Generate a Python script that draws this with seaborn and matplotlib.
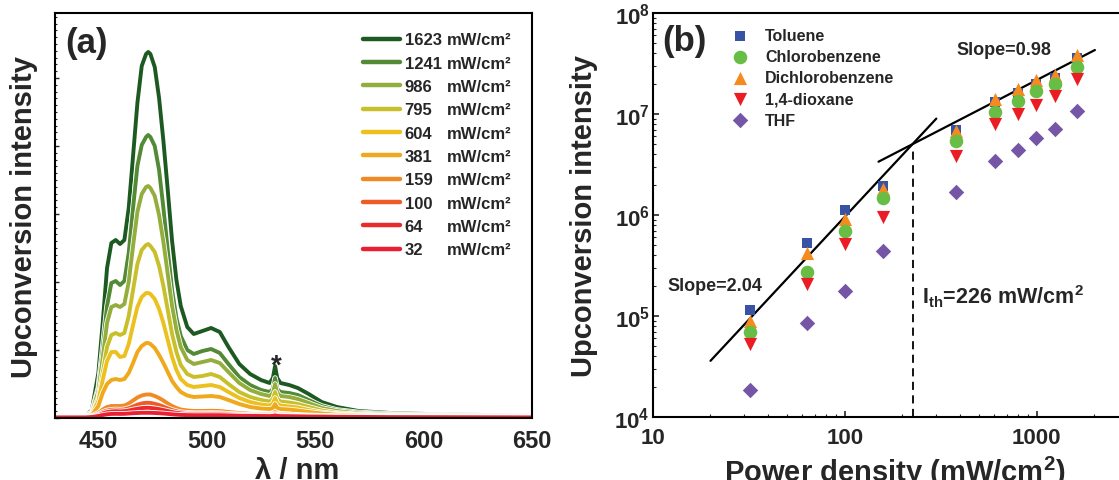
import matplotlib
matplotlib.use('Agg')
import matplotlib.pyplot as plt
import matplotlib.patheffects as pe
from matplotlib.lines import Line2D
from matplotlib.ticker import FuncFormatter, LogLocator, MultipleLocator, NullFormatter
import numpy as np
import pandas as pd
import seaborn as sns

sns.set_theme(style='ticks')
plt.rcParams['font.family'] = ['Liberation Sans', 'DejaVu Sans']
plt.rcParams['font.weight'] = 'bold'
plt.rcParams['axes.labelweight'] = 'bold'
plt.rcParams['mathtext.fontset'] = 'custom'
plt.rcParams['mathtext.rm'] = 'Liberation Sans:bold'
plt.rcParams['mathtext.it'] = 'Liberation Sans:bold'
plt.rcParams['mathtext.bf'] = 'Liberation Sans:bold'
plt.rcParams['mathtext.default'] = 'rm'

# ---- panel (a): upconversion spectra ----
wavelength = [430, 444, 447, 450, 452, 454, 456, 458, 460, 462,
              464, 466, 468, 470, 472, 473, 474, 476, 478, 480,
              482, 484, 486, 488, 491, 494, 498, 502, 506, 510,
              515, 520, 525, 529, 530.5, 531.5, 532.5, 534, 538, 542,
              547, 553, 560, 570, 585, 610, 650]

spec_1623 = [2, 2, 8, 45, 95, 150, 175, 178, 174, 178,
             210, 262, 315, 352, 364, 366, 364, 351, 320, 277,
             228, 177, 138, 112, 91, 84, 87, 90, 86, 71,
             54, 44, 38, 35, 40, 52, 40, 35, 33, 30,
             24, 16, 11, 7, 5, 3.5, 2.5]
spec_1241 = [2, 2, 6, 30, 70, 112, 135, 137, 133, 137,
             165, 210, 252, 273, 281, 283, 281, 272, 248, 210,
             168, 128, 100, 82, 68, 64, 67, 69, 65, 54,
             41, 33, 28, 26, 29, 40, 29, 26, 25, 23,
             18, 12, 8, 5.5, 4, 3, 2.2]
spec_986 = [2, 2, 5, 27, 60, 95, 111, 113, 111, 114,
            136, 172, 206, 224, 231, 232, 230, 222, 203, 176,
            144, 112, 88, 71, 58, 54, 56, 58, 55, 46,
            35, 28, 24, 22, 25, 34, 25, 22, 21, 19,
            15, 10, 7, 4.5, 3.3, 2.5, 2]
spec_795 = [1.5, 1.5, 4, 20, 45, 71, 83, 85, 83, 85,
            102, 128, 154, 168, 173, 174, 172, 166, 152, 132,
            108, 84, 66, 53, 44, 41, 42, 44, 41, 34,
            26, 21, 18, 16.5, 19, 26, 19, 16.5, 15.5, 14,
            11, 7.5, 5, 3.5, 2.5, 2, 1.5]
spec_604 = [1.5, 1.5, 3.5, 17, 38, 57, 66, 66, 61, 62,
            74, 93, 111, 121, 125, 125, 124, 119, 109, 95,
            78, 61, 48, 39, 33, 31, 32, 33, 31, 26,
            20, 16, 13.5, 12.5, 14.5, 20, 14.5, 12.5, 11.5, 10.5,
            8, 5.5, 4, 2.8, 2, 1.6, 1.3]
spec_381 = [1, 1, 3, 12, 25, 34, 38, 39, 38, 39,
            45, 55, 66, 72, 75, 75, 74, 70, 63, 55,
            46, 37, 31, 26, 22.5, 21, 21.5, 22, 21, 18,
            14, 11, 9.5, 9, 10, 14, 10, 9, 8.5, 7.5,
            6, 4.5, 3.2, 2.3, 1.7, 1.3, 1]
spec_159 = [1, 1, 2, 5, 8.5, 11, 12, 12, 12, 12.5,
            14.5, 17.5, 20.5, 22.5, 23.5, 23.5, 23.5, 22, 20, 17.5,
            14.5, 12, 10, 8.5, 7.5, 7, 7, 7.2, 7, 6,
            5, 4.2, 3.7, 3.5, 4.2, 6, 4.2, 3.5, 3.3, 3,
            2.6, 2.2, 1.8, 1.5, 1.3, 1.1, 1]
spec_100 = [0.8, 0.8, 1.5, 3.5, 6, 7.5, 8.2, 8.5, 8.3, 8.6,
            9.8, 11.5, 13.3, 14.6, 15.2, 15.2, 15.1, 14.2, 13, 11.4,
            9.6, 8, 6.8, 5.8, 5.1, 4.8, 4.8, 4.9, 4.8, 4.2,
            3.6, 3.1, 2.8, 2.7, 3.1, 4.3, 3.1, 2.7, 2.5, 2.3,
            2.1, 1.8, 1.5, 1.3, 1.1, 1, 0.8]
spec_64 = [0.7, 0.7, 1.2, 2.8, 4.6, 5.9, 6.6, 6.8, 6.6, 6.8,
           7.5, 8.4, 9.3, 9.9, 10.2, 10.2, 10.1, 9.6, 8.9, 8,
           7, 6, 5.2, 4.6, 4.1, 3.9, 3.9, 4, 3.9, 3.5,
           3, 2.6, 2.4, 2.3, 2.6, 3.4, 2.6, 2.3, 2.2, 2,
           1.8, 1.6, 1.4, 1.2, 1, 0.9, 0.7]
spec_32 = [0.6, 0.6, 1, 2, 3, 3.7, 4.1, 4.2, 4.1, 4.2,
           4.5, 4.8, 5, 5.2, 5.2, 5.2, 5.2, 5, 4.8, 4.5,
           4.1, 3.7, 3.4, 3.1, 2.9, 2.8, 2.8, 2.8, 2.8, 2.6,
           2.3, 2.1, 2, 1.9, 2.1, 2.6, 2.1, 1.9, 1.8, 1.7,
           1.5, 1.4, 1.2, 1.1, 0.9, 0.8, 0.6]

spec_powers = ['1623', '1241', '986', '795', '604', '381', '159', '100', '64', '32']
spectra = [spec_1623, spec_1241, spec_986, spec_795, spec_604,
           spec_381, spec_159, spec_100, spec_64, spec_32]
spec_colors = ['#1d5a21', '#538a35', '#93ae3c', '#c8c02a', '#ecc11f',
               '#f0a81c', '#f08a25', '#ee5b27', '#e92b2b', '#ea1f33']

# ---- panel (b): power dependence ----
power = [32, 64, 100, 159, 381, 604, 795, 986, 1241, 1623]
toluene = [1.15e5, 5.3e5, 1.13e6, 1.92e6, 6.9e6, 1.3e7, 1.6e7, 2.0e7, 2.25e7, 3.55e7]
chlorobenzene = [7.0e4, 2.7e5, 7.0e5, 1.47e6, 5.4e6, 1.05e7, 1.34e7, 1.7e7, 2.0e7, 2.92e7]
dichlorobenzene = [9.0e4, 4.2e5, 9.1e5, 1.81e6, 6.8e6, 1.41e7, 1.78e7, 2.17e7, 2.45e7, 3.85e7]
dioxane = [5.3e4, 2.07e5, 5.2e5, 9.5e5, 3.85e6, 7.96e6, 9.9e6, 1.22e7, 1.5e7, 2.24e7]
thf = [1.86e4, 8.5e4, 1.78e5, 4.43e5, 1.7e6, 3.45e6, 4.43e6, 5.74e6, 7.1e6, 1.08e7]

solvents = ['Toluene', 'Chlorobenzene', 'Dichlorobenzene', '1,4-dioxane', 'THF']
solvent_data = [toluene, chlorobenzene, dichlorobenzene, dioxane, thf]
solvent_colors = ['#3953a4', '#68bd45', '#f58b1f', '#ec1c24', '#7556a6']
solvent_markers = ['s', 'o', '^', 'v', 'D']
solvent_sizes = [50, 95, 90, 90, 62]
draw_order = [0, 2, 1, 3, 4]

fit_low_x = [20, 300]
fit_low_y = [3.6e4, 9.0e6]
fit_high_x = [150, 2010]
fit_high_y = [3.37e6, 4.3e7]
threshold = 226
threshold_top = 4.5e6

fig = plt.figure(figsize=(11.19, 4.81), dpi=100)
axL = fig.add_axes([55 / 1119, 62 / 481, 477 / 1119, 405 / 481])
axR = fig.add_axes([652.7 / 1119, 63 / 481, 475.6 / 1119, 404 / 481])

# panel (a)
df_spec = pd.DataFrame({
    'wl': wavelength * len(spectra),
    'I': [v for s in spectra for v in s],
    'P': [p for p in spec_powers for _ in wavelength],
})
sns.lineplot(data=df_spec, x='wl', y='I', hue='P', hue_order=spec_powers,
             palette=spec_colors, lw=2.8, legend=False, estimator=None,
             sort=False, ax=axL)
for ln in axL.lines:
    ln.set_path_effects([pe.Stroke(linewidth=4.0, foreground='white'), pe.Normal()])
    ln.set_solid_joinstyle('round')

axL.set_xlim(430, 650)
axL.set_ylim(0, 405)
axL.xaxis.set_major_locator(MultipleLocator(50))
axL.yaxis.set_major_locator(MultipleLocator(68))
axL.yaxis.set_minor_locator(MultipleLocator(6.8))
axL.yaxis.set_major_formatter(NullFormatter())
axL.tick_params(axis='y', which='major', direction='in', length=3, width=1)
axL.tick_params(axis='y', which='minor', direction='in', length=1.5, width=0.8)
axL.tick_params(axis='x', which='major', direction='in', length=0, pad=8, labelsize=17)
axL.set_xlabel('λ / nm', fontsize=21)
axL.set_ylabel('Upconversion intensity', fontsize=21)
axL.xaxis.set_label_coords(0.507, -0.095)
axL.yaxis.set_label_coords(-0.035, 0.5)
for sp in axL.spines.values():
    sp.set_linewidth(1.5)
    sp.set_color('black')

axL.text(0.021, 0.928, '(a)', transform=axL.transAxes, fontsize=25,
         ha='left', va='center')
axL.text(532, 45, '*', fontsize=20, ha='center', va='baseline')

line_handles = [Line2D([], [], color=c, lw=3.2) for c in spec_colors]
leg1 = axL.legend(line_handles, spec_powers, loc='upper left',
                  bbox_to_anchor=(0.6457, 0.952), frameon=False, fontsize=12,
                  handlelength=2.2, handletextpad=0.3, labelspacing=0.5,
                  borderpad=0, borderaxespad=0)
axL.add_artist(leg1)
blank = [Line2D([], [], lw=0) for _ in spec_powers]
axL.legend(blank, ['mW/cm²'] * len(spec_powers), loc='upper left',
           bbox_to_anchor=(0.822, 0.952), frameon=False, fontsize=12,
           handlelength=0, handletextpad=0, labelspacing=0.5,
           borderpad=0, borderaxespad=0)

# panel (b)
for i in draw_order:
    sns.scatterplot(x=power, y=solvent_data[i], marker=solvent_markers[i],
                    color=solvent_colors[i], s=solvent_sizes[i], linewidth=0,
                    label=solvents[i], ax=axR, zorder=3)
sns.lineplot(x=fit_low_x, y=fit_low_y, color='black', lw=1.6, ax=axR)
sns.lineplot(x=fit_high_x, y=fit_high_y, color='black', lw=1.6, ax=axR)
axR.plot([threshold, threshold], [1e4, threshold_top], color='black', lw=1.3,
         ls=(0, (4.5, 3)))

axR.set_xscale('log')
axR.set_yscale('log')
axR.set_xlim(10, 3000)
axR.set_ylim(1e4, 1e8)
axR.xaxis.set_major_locator(LogLocator(base=10, numticks=10))
axR.yaxis.set_major_locator(LogLocator(base=10, numticks=10))
axR.xaxis.set_minor_locator(LogLocator(base=10, subs=np.arange(2, 10), numticks=20))
axR.yaxis.set_minor_locator(LogLocator(base=10, subs=np.arange(2, 10), numticks=20))
axR.xaxis.set_major_formatter(FuncFormatter(lambda v, p: f'{v:g}'))
axR.yaxis.set_major_formatter(FuncFormatter(
    lambda v, p: r'$10^{%d}$' % int(round(np.log10(v)))))
axR.xaxis.set_minor_formatter(NullFormatter())
axR.yaxis.set_minor_formatter(NullFormatter())
axR.tick_params(which='major', direction='in', length=4, width=1.2, labelsize=16)
axR.tick_params(which='minor', direction='in', length=2, width=0.8)
axR.tick_params(axis='x', pad=7)
axR.tick_params(axis='y', pad=2)
for sp in axR.spines.values():
    sp.set_linewidth(1.5)
    sp.set_color('black')

axR.set_xlabel('Power density (mW/cm$^{2}$)', fontsize=21)
axR.set_ylabel('Upconversion intensity', fontsize=21)
axR.xaxis.set_label_coords(0.509, -0.09)
axR.yaxis.set_label_coords(-0.116, 0.5)

axR.text(0.0196, 0.931, '(b)', transform=axR.transAxes, fontsize=25,
         ha='left', va='center')
axR.text(12, 2.0e5, 'Slope=2.04', fontsize=13, ha='left', va='center')
axR.text(383, 4.4e7, 'Slope=0.98', fontsize=13, ha='left', va='center')
axR.text(252, 1.59e5, r'I$_{th}$=226 mW/cm$^{2}$', fontsize=15.5,
         ha='left', va='center')

h, l = axR.get_legend_handles_labels()
order = [l.index(n) for n in solvents]
axR.legend([h[k] for k in order], solvents, loc='upper left',
           bbox_to_anchor=(0.1667, 0.962), frameon=False, fontsize=11.5,
           handlelength=1.0, handletextpad=1.06, labelspacing=0.38,
           borderpad=0, borderaxespad=0)

fig.savefig('out.png', dpi=100)
